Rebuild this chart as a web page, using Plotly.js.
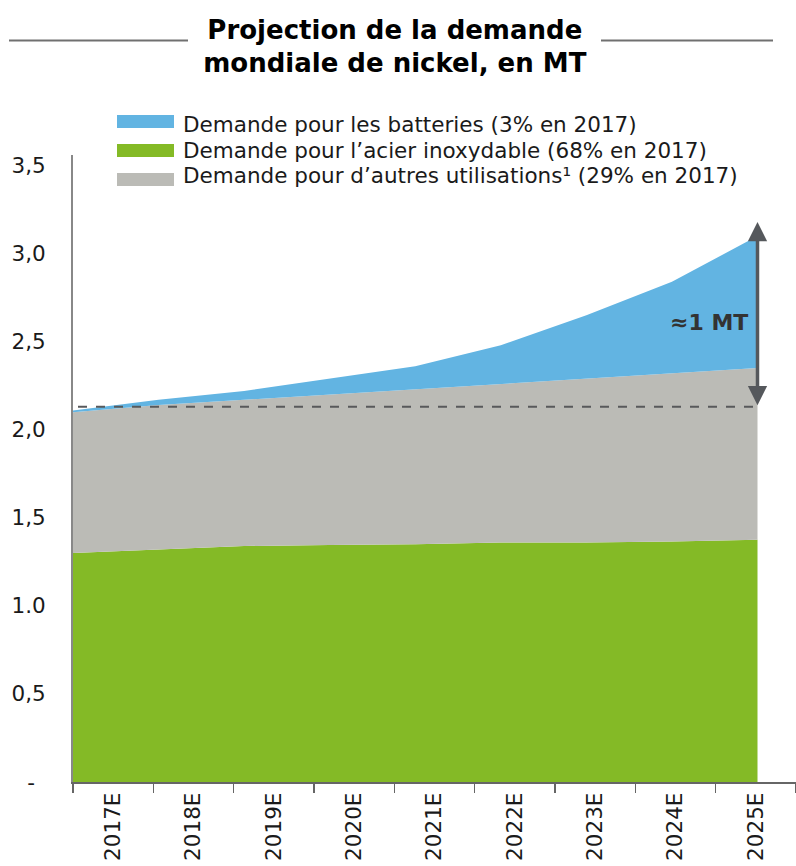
<!DOCTYPE html>
<html>
<head>
<meta charset="utf-8">
<script src="https://cdn.plot.ly/plotly-3.0.1.min.js"></script>
<style>
  html, body { margin: 0; padding: 0; background: #ffffff; }
  #chart { width: 796px; height: 866px; }
</style>
</head>
<body>
<div id="chart"></div>
<script>
// ---- Data (millions of tonnes) ----
const years = ["2017E", "2018E", "2019E", "2020E", "2021E", "2022E", "2023E", "2024E", "2025E"];
const stainlessSteel = [1.30, 1.32, 1.34, 1.345, 1.35, 1.36, 1.36, 1.365, 1.375];
const otherUses      = [0.80, 0.82, 0.83, 0.855, 0.88, 0.90, 0.93, 0.955, 0.975];
const batteries      = [0.01, 0.03, 0.05, 0.09, 0.13, 0.22, 0.36, 0.52, 0.75];

const seriesNames = [
  "Demande pour les batteries (3% en 2017)",
  "Demande pour l\u2019acier inoxydable (68% en 2017)",
  "Demande pour d\u2019autres utilisations\u00b9 (29% en 2017)"
];
const yTickVals = [0, 0.5, 1.0, 1.5, 2.0, 2.5, 3.0, 3.5];
const yTickText = ["-\u2002", "0,5", "1.0", "1,5", "2,0", "2,5", "3,0", "3,5"];

const referenceLevel = 2.13;   // 2017 level (dashed line)
const arrowTop = 3.18;         // top of the "≈1 MT" arrow
const gapLabel = "\u22481 MT";

// ---- Styling ----
const BLUE = "#62b4e2", GREEN = "#84ba26", GREY = "#bbbbb6";
const FONT = "DejaVu Sans, Verdana, sans-serif";

const W = 796, H = 866;
const M = {l: 73, r: 0, t: 155, b: 84};
const pw = W - M.l - M.r, ph = H - M.t - M.b;
const px = x => (x - M.l) / pw;          // pixel -> paper x
const py = y => (H - M.b - y) / ph;      // pixel -> paper y

const traces = [
  {x: years, y: stainlessSteel, name: seriesNames[1], type: "scatter", mode: "lines",
   stackgroup: "one", line: {width: 0}, fillcolor: GREEN, showlegend: false, hoverinfo: "skip"},
  {x: years, y: otherUses, name: seriesNames[2], type: "scatter", mode: "lines",
   stackgroup: "one", line: {width: 0}, fillcolor: GREY, showlegend: false, hoverinfo: "skip"},
  {x: years, y: batteries, name: seriesNames[0], type: "scatter", mode: "lines",
   stackgroup: "one", line: {width: 0}, fillcolor: BLUE, showlegend: false, hoverinfo: "skip"},
  // carrier for the category labels axis
  {x: years, y: stainlessSteel, xaxis: "x2", type: "scatter", mode: "markers",
   marker: {opacity: 0}, showlegend: false, hoverinfo: "skip"}
];

// custom legend: swatches + text
const legendColors = [BLUE, GREEN, GREY];
const swatchY = [121.5, 150.5, 179.5];
const textY = [124.5, 150, 175.5];

const shapes = [
  // title rules
  {type: "line", xref: "paper", yref: "paper", x0: px(9), x1: px(188), y0: py(40.5), y1: py(40.5),
   line: {color: "#707070", width: 2}},
  {type: "line", xref: "paper", yref: "paper", x0: px(601), x1: px(773), y0: py(40.5), y1: py(40.5),
   line: {color: "#707070", width: 2}},
  // dashed reference line
  {type: "line", xref: "paper", yref: "y", x0: px(78), x1: px(757),
   y0: referenceLevel, y1: referenceLevel, line: {color: "#58595b", width: 2, dash: "dash"}}
];
legendColors.forEach((c, i) => {
  shapes.push({type: "rect", xref: "paper", yref: "paper",
    x0: px(117), x1: px(174), y0: py(swatchY[i] + 6.5), y1: py(swatchY[i] - 6.5),
    fillcolor: c, line: {width: 0}});
});

const annotations = seriesNames.map((t, i) => ({
  xref: "paper", yref: "paper", x: px(181), y: py(textY[i]), xanchor: "left", yanchor: "middle",
  text: t, showarrow: false, font: {family: FONT, size: 21.5, color: "#1a1a1a"}
}));
annotations.push(
  {xref: "x", yref: "y", x: years[years.length - 1], y: arrowTop,
   ax: years[years.length - 1], ay: referenceLevel, axref: "x", ayref: "y",
   text: "", showarrow: true, arrowhead: 2, arrowside: "end+start", arrowsize: 1.1,
   arrowwidth: 3.5, arrowcolor: "#55585c", standoff: 0, startstandoff: 0},
  {xref: "paper", yref: "paper", x: px(750), y: py(322), xanchor: "right", yanchor: "middle",
   text: "<b>" + gapLabel + "</b>", showarrow: false,
   font: {family: FONT, size: 22, color: "#333333"}}
);

const layout = {
  width: W, height: H,
  margin: M,
  paper_bgcolor: "#ffffff", plot_bgcolor: "#ffffff",
  font: {family: FONT, color: "#1a1a1a"},
  showlegend: false,
  title: {
    text: "<b>Projection de la demande<br>mondiale de nickel, en MT</b>",
    font: {family: FONT, size: 26, color: "#000000"},
    x: 0.496, xanchor: "center", y: 1 - 38.5 / H, yanchor: "middle", yref: "container"
  },
  xaxis: {
    type: "category", range: [0, 8.45], showticklabels: false, ticks: "",
    showgrid: false, zeroline: false, showline: false, fixedrange: true
  },
  xaxis2: {
    type: "category", overlaying: "x", anchor: "y", side: "bottom",
    categoryorder: "array", categoryarray: years,
    range: [-0.5, 8.5], tickson: "boundaries", ticks: "outside", ticklen: 9,
    tickcolor: "#666666", tickwidth: 1.5, tickangle: -90,
    tickfont: {family: FONT, size: 21.5, color: "#1a1a1a"},
    showline: true, linecolor: "#666666", linewidth: 2,
    showgrid: false, zeroline: false
  },
  yaxis: {
    range: [0, 3.56], tickvals: yTickVals, ticktext: yTickText,
    tickfont: {family: FONT, size: 21.5, color: "#1a1a1a"},
    ticks: "", ticklabelstandoff: 21,
    showline: true, linecolor: "#888888", linewidth: 2,
    showgrid: false, zeroline: false
  },
  shapes: shapes,
  annotations: annotations
};

Plotly.newPlot("chart", traces, layout, {displayModeBar: false, staticPlot: true});
</script>
</body>
</html>
